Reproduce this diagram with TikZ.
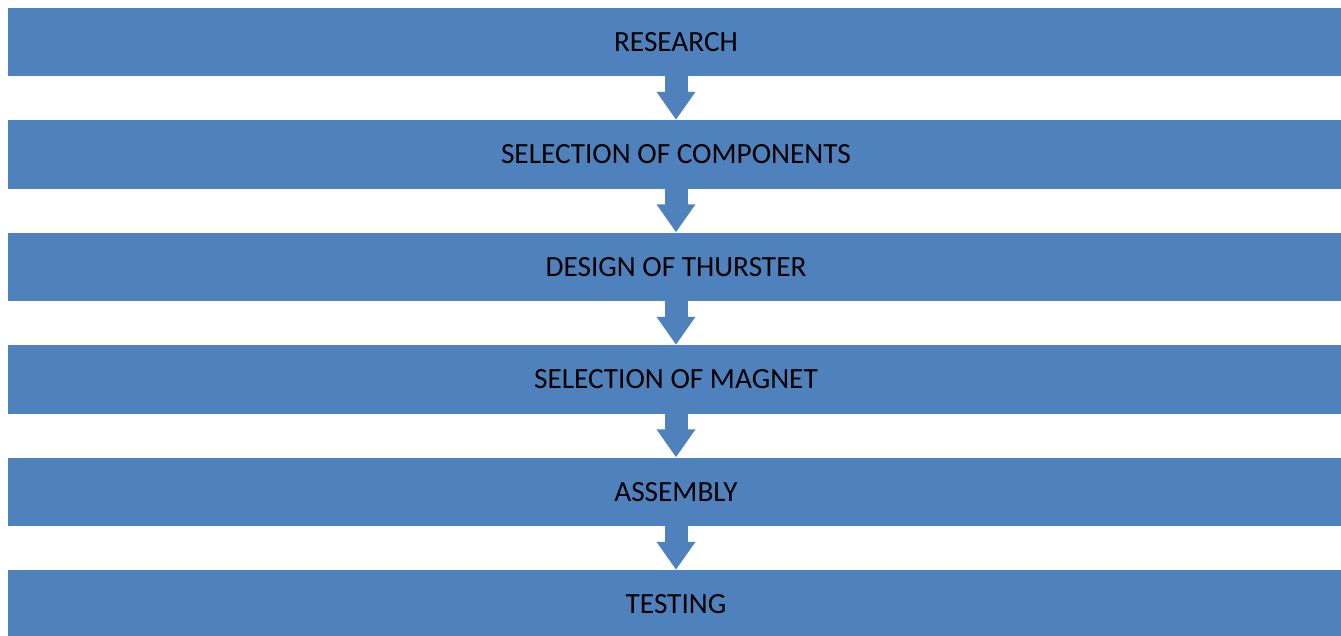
\documentclass[tikz,border=0pt]{standalone}
\usepackage{fontspec}
\setmainfont{Carlito}
\usetikzlibrary{arrows.meta}
\definecolor{stepblue}{HTML}{4F81BD}
\tikzset{
  stepbox/.style={rectangle, fill=stepblue, inner sep=0pt, minimum width=1336pt, minimum height=68.5pt,
    font=\fontsize{29.3}{35}\selectfont, text=black},
  flowarrow/.style={draw=stepblue, line width=23pt, -{Triangle[width=37pt,length=28pt,fill=stepblue]}, shorten <=-1pt}
}
\begin{document}
\begin{tikzpicture}[x=1pt,y=-1pt]
\useasboundingbox (0,0) rectangle (1341,635);
\clip (0,0) rectangle (1341,635);
\node[stepbox] (b1) at (676,41.75) {RESEARCH};
\node[stepbox] (b2) at (676,154.25) {SELECTION OF COMPONENTS};
\node[stepbox] (b3) at (676,266.75) {DESIGN OF THURSTER};
\node[stepbox] (b4) at (676,379.25) {SELECTION OF MAGNET};
\node[stepbox] (b5) at (676,491.75) {ASSEMBLY};
\node[stepbox] (b6) at (676,604.25) {TESTING};
\foreach \a/\b in {b1/b2,b2/b3,b3/b4,b4/b5,b5/b6}
  \draw[flowarrow] (\a.south) -- (\b.north);
\end{tikzpicture}
\end{document}
